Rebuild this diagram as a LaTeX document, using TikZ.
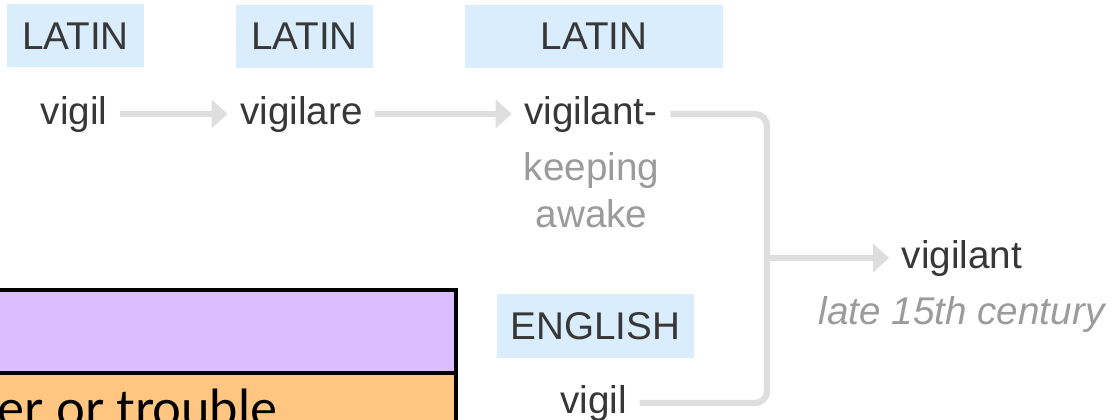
\documentclass[tikz,border=0pt]{standalone}
\usepackage{fontspec}
\usepackage{tikz}
\usetikzlibrary{calc}
\usetikzlibrary{arrows.meta}

\newfontfamily\etymfont{Liberation Sans}
\newfontfamily\sensefont{Lato}

\definecolor{langblue}{RGB}{218,237,252}
\definecolor{linkgray}{RGB}{222,222,222}
\definecolor{wordgray}{RGB}{55,55,55}
\definecolor{notegray}{RGB}{155,155,155}
\definecolor{senseviolet}{RGB}{220,190,255}
\definecolor{senseorange}{RGB}{254,198,128}

\tikzset{
  lang/.style={fill=langblue, minimum height=0.63cm, inner sep=0pt, text=wordgray,
    font=\etymfont\fontsize{11}{13.4}\selectfont},
  word/.style={inner xsep=0.12cm, inner ysep=0pt, text height=0.3cm, text depth=0.08cm,
    text=wordgray, font=\etymfont\fontsize{11}{13.4}\selectfont},
  note/.style={inner sep=0pt, text=notegray, font=\etymfont\fontsize{11}{13.4}\selectfont},
  link/.style={draw=linkgray, line width=1.8pt, rounded corners=0.12cm},
  linkto/.style={link, -{Triangle[length=0.16cm,width=0.28cm]}},
}

\begin{document}
\begin{tikzpicture}
  \useasboundingbox (0,0) rectangle (11.17,4.20);
  \clip (0,0) rectangle (11.17,4.20);

  \draw [fill=senseviolet, line width=1pt] (-0.1,0.47) rectangle (4.56,1.30);
  \draw [fill=senseorange, line width=1pt] (-0.1,-0.2) rectangle (4.56,0.47);
  \node [anchor=base east, inner sep=0pt, font=\sensefont\fontsize{14.5}{17}\selectfont] (sense) at (2.78,-0.07) {er or trouble};

  \node [lang, minimum width=1.37cm] (latin1) at (0.755,3.84) {LATIN};
  \node [lang, minimum width=1.37cm] (latin2) at (3.045,3.835) {LATIN};
  \node [lang, minimum width=2.58cm] (latin3) at (5.94,3.835) {LATIN};
  \node [lang, minimum width=1.97cm, minimum height=0.64cm] (english) at (5.955,0.94) {ENGLISH};

  \node [word] (vigil) at (0.74,3.06) {vigil};
  \node [word] (vigilare) at (3.015,3.06) {vigilare};
  \node [word] (vigilantL) at (5.91,3.06) {vigilant-};
  \node [note, anchor=north, align=center] (gloss) at (5.915,2.68) {keeping\\awake};
  \node [word] (vigilant) at (9.62,1.62) {vigilant};
  \node [note, anchor=base, font=\etymfont\itshape\fontsize{11}{13.4}\selectfont] (date) at (9.615,0.95) {late 15th century};
  \node [word] (vigilE) at (5.935,0.17) {vigil};
  \coordinate (join) at (7.67,1.62);

  \draw [linkto] (vigil.east) -- (vigilare.west);
  \draw [linkto] (vigilare.east) -- (vigilantL.west);
  \draw [link] (vigilantL.east) -| (join) |- (vigilE.east);
  \draw [linkto] (join) -- (vigilant.west);
\end{tikzpicture}
\end{document}
